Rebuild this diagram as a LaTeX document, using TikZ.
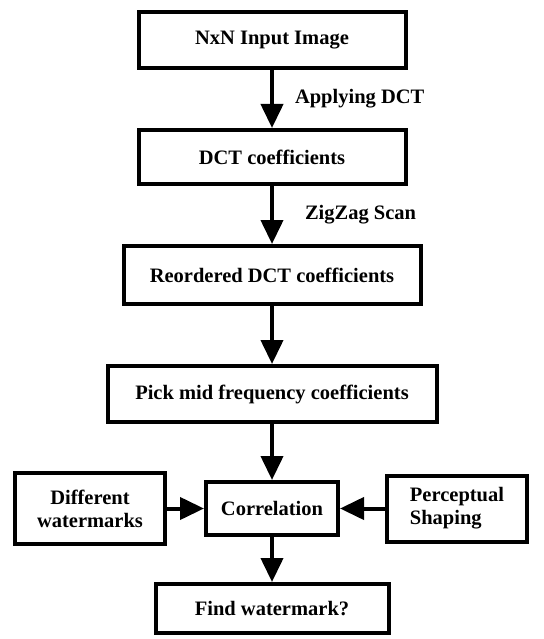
\documentclass[tikz,border=0pt]{standalone}
\usepackage{fontspec}
\setmainfont{Liberation Serif}
\usetikzlibrary{arrows.meta,positioning}

\begin{document}
\begin{tikzpicture}[
  x=1pt, y=1pt,
  font=\fontsize{20.5}{23}\selectfont\bfseries,
  node distance = 58pt and 40pt, % y-dist and x-dist
  blk/.style = {rectangle, draw, line width=4pt, align=center},
  side/.style = {rectangle, draw, line width=4pt},
  flow/.style = {-{Triangle[length=24pt,width=22pt]}, line width=4pt},
  lbl/.style = {right, inner xsep=0pt}
]
\useasboundingbox (0,0) rectangle (543,-639);

% Main column: from the input image down to the correlation
\node[blk, minimum width=267pt, minimum height=56pt] (inp) at (272,-40) {NxN Input Image};
\node[blk, minimum width=267pt, minimum height=54pt, below=of inp] (dct) {DCT coefficients};
\node[blk, minimum width=297pt, minimum height=58pt, below=of dct] (reo) {Reordered DCT coefficients};
\node[blk, minimum width=329pt, minimum height=56pt, below=of reo] (pick) {Pick mid frequency coefficients};
\node[blk, minimum width=132pt, minimum height=53pt, below=56pt of pick] (corr) {Correlation};
\node[blk, minimum width=233pt, minimum height=49pt, below=45pt of corr] (find) {Find watermark?};

% Side inputs of the correlation
\node[side, align=center, minimum width=150pt, minimum height=71pt, left=37pt of corr] (wm) {Different\\watermarks};
\node[side, align=left, minimum width=140pt, minimum height=66pt, right=45pt of corr] (shp) {Perceptual\\Shaping};

% Arrows
\draw[flow] (inp) -- node[lbl, xshift=21pt] {Applying DCT} (dct);
\draw[flow] (dct) -- node[lbl, xshift=31pt] {ZigZag Scan} (reo);
\draw[flow] (reo) -- (pick);
\draw[flow] (pick) -- (corr);
\draw[flow] (corr) -- (find);
\draw[flow] (wm) -- (corr);
\draw[flow] (shp) -- (corr);

\end{tikzpicture}
\end{document}
